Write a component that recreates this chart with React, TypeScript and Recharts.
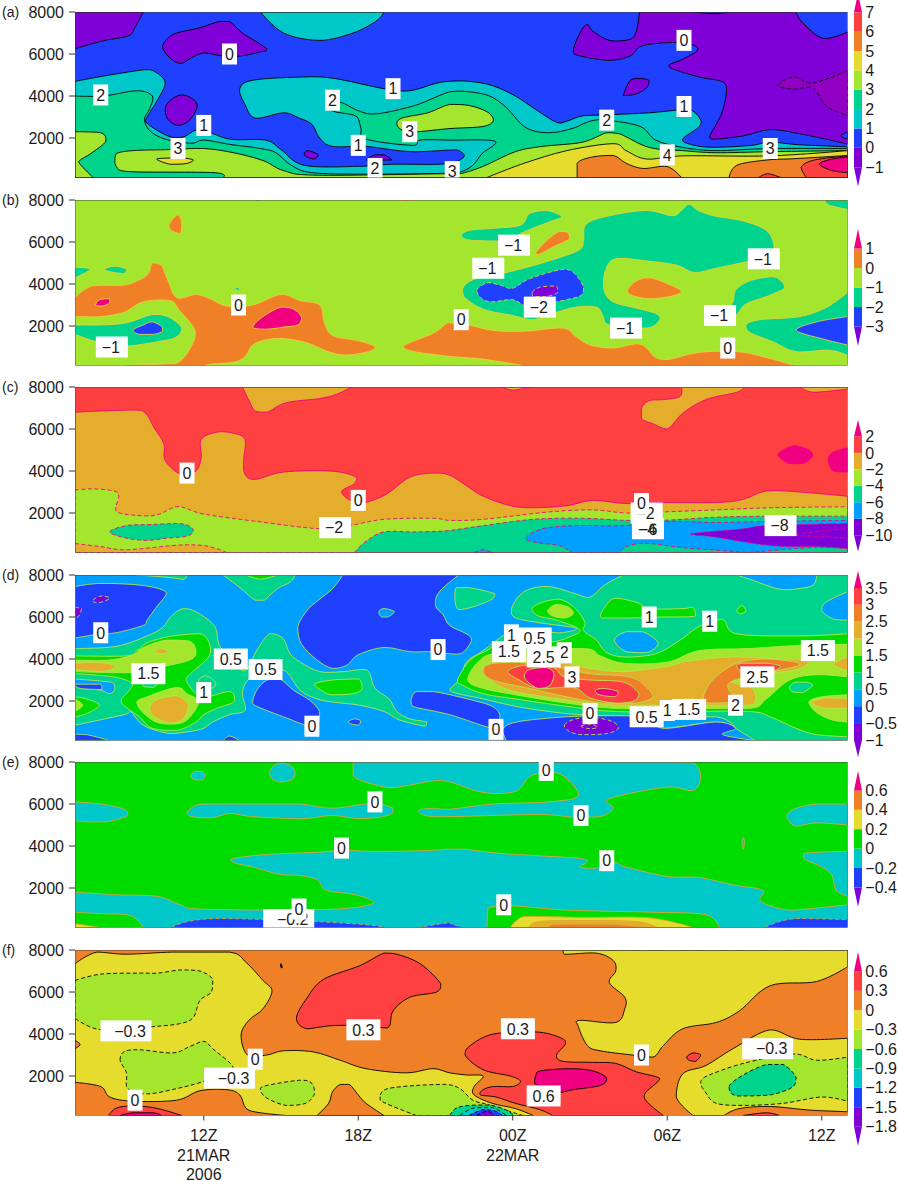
import React from 'react';
import { ScatterChart, Scatter, XAxis, YAxis, BarChart, Bar } from 'recharts';

type P = [number, number];

// ---- palette ----
const PURPLE = '#8000D8', DPURPLE = '#9200C4', BLUE = '#2040FF', SKY = '#00A0FF', CYAN = '#00C8C8', TEAL = '#00D48C';
const GREEN = '#00DC00', YG = '#A4E62E', YELLOW = '#E6DC2E', AMBER = '#E4AE2C', ORANGE = '#F08028', RED = '#FF4040', MAGENTA = '#F00080';

const HOUR_MIN = 7, HOUR_MAX = 37, HEIGHT_MIN = 120, HEIGHT_MAX = 8000;
const hourTicks = [12, 18, 24, 30, 36];
const heightTicks = [2000, 4000, 6000, 8000];
const hourLabels: Record<number, string[]> = { 12: ['12Z', '21MAR', '2006'], 18: ['18Z'], 24: ['00Z', '22MAR'], 30: ['06Z'], 36: ['12Z'] };
const fullArea: P[] = [[7, 120], [37, 120], [37, 8000], [7, 8000]];

// ---- panel (a) ----
const aCyan: P[] = [[7,4700],[8.35,5000],[9.7,5250],[10.05,5200],[10.5,4650],[10.2,3800],[9.8,3000],[9.8,2700],[10.6,2100],[11.2,2050],[11.85,2400],[13,1950],[14.4,1900],[15,1450],[15.9,700],[18,650],[19.3,750],[21.4,770],[22.1,1100],[21.9,1400],[21.55,1430],[20,1350],[18.3,1600],[17,1600],[16.5,2000],[16.2,2650],[15.7,2950],[15.1,3200],[14,2950],[13.6,3600],[13.4,4350],[13.9,4750],[15.7,4900],[17,4850],[19,4350],[20,4250],[21,4600],[21.55,4700],[22.3,4700],[23.2,4500],[24.1,4000],[24.9,3350],[25.7,2750],[26.1,2800],[26.7,3050],[27.6,3100],[29.3,3200],[30.6,3350],[31,3280],[31.3,2850],[31.2,2500],[30.6,1950],[30.9,1700],[31.7,1560],[33.2,1640],[34,1800],[35.1,1680],[37,1580],[37,120],[7,120]];
const aCyanTop: P[] = [[14.2,8000],[15.1,7000],[16.5,6650],[17.8,7000],[18.7,7570],[19,8000]];
const aTeal: P[] = [[7,4000],[8.1,4000],[9.4,4250],[10,4000],[9.9,3400],[9.7,2900],[9.9,2350],[10.5,1950],[11.5,1750],[12,1900],[13,1700],[14.2,1500],[14.8,1300],[15.4,700],[16.2,350],[18.3,280],[21.4,320],[21.95,380],[22.45,700],[22.8,1250],[23.3,1850],[21.55,1900],[20.4,1900],[20.1,1650],[18.3,1950],[18.1,2500],[17.9,3050],[17.1,3250],[16.8,3500],[17.3,3700],[18,3300],[18.7,3150],[20.2,3550],[21.55,4200],[22.3,4200],[23.1,4000],[23.75,3450],[24.5,2500],[25.4,2250],[26.3,2450],[27,2800],[27.65,2850],[28.95,2550],[29.55,1900],[30.6,1550],[31.9,1400],[34,1500],[37,1500],[37,120],[7,120]];
const aYgCorner: P[] = [[7,2300],[8,2250],[8.2,1850],[7.6,1250],[7.2,950],[7.2,750],[7.7,120],[7,120]];
const aYgBand: P[] = [[8.55,930],[8.6,1250],[9.25,1400],[10.7,1450],[12,1500],[13.15,1300],[14.3,930],[15.1,450],[16.4,230],[21.4,300],[21.95,300],[22.85,650],[24.1,1350],[25.15,1600],[26.7,1800],[27.65,2250],[28.15,2200],[29.3,1550],[30.6,1400],[31.9,1300],[34,1350],[37,1400],[37,120],[12.75,120],[12.4,350],[9.1,400],[8.6,650]];
const aYgBlob: P[] = [[19.5,2650],[19.7,2950],[20.7,3200],[21.55,3600],[22.3,3550],[23,3250],[23.25,2850],[22.85,2550],[21.55,2450],[20.3,2300],[19.75,2350]];
const aYellow: P[] = [[23,120],[24.4,780],[26.1,1400],[27.9,1730],[28.4,1400],[29.2,1000],[30.6,1150],[34,1150],[37,1400],[37,120]];
const aYellowSmall: P[] = [[10.17,1000],[11.1,1050],[11.6,950],[11.3,780],[10.7,750]];
const aOrange1: P[] = [[26.5,120],[26.5,800],[27.1,1100],[27.9,1170],[28.4,800],[29.05,550],[30,640],[30.55,120]];
const aOrange2: P[] = [[32.4,120],[32.7,700],[33.85,950],[35,1020],[37,1170],[37,120]];
const aRed1: P[] = [[35.4,120],[35.2,600],[35.7,950],[37,1150],[37,120]];
const aRed2: P[] = [[33.55,120],[33.9,300],[34.4,120]];
const aMagenta: P[] = [[35.9,760],[36.4,1000],[37,1100],[37,350],[36.4,450]];
const aPurpleCorner: P[] = [[7,6250],[8.1,6630],[9.07,6860],[9.33,7260],[9.65,8000],[7,8000]];
const aPurple1: P[] = [[10.4,6300],[10.56,6700],[10.95,7000],[11.85,7250],[12.6,7550],[13,7550],[13.5,7000],[14.45,6250],[14.2,6100],[13.4,5900],[12.75,5900],[12,6050],[11.5,5800],[11.1,5550],[10.7,5800]];
const aPurple2: P[] = [[10.5,3400],[10.7,3800],[11.1,4050],[11.45,3950],[11.75,3550],[11.45,2850],[11,2600],[10.6,2900]];
const aPurple3: P[] = [[15.9,1250],[16.05,1400],[16.45,1200],[16.3,1000],[16,1100]];
const aPurple4: P[] = [[18.3,950],[18.65,1200],[19,1200],[19.3,950]];
const aPurple5: P[] = [[28.3,4020],[28.55,4730],[28.9,4840],[29.3,4730],[29.2,4400],[28.8,4100]];
const aPurpleBig: P[] = [[28.92,8000],[28.8,7100],[28.55,6700],[27.75,6650],[27.1,7100],[26.9,7400],[26.65,7100],[26.35,6150],[26.65,5900],[27.75,5700],[28.55,5900],[29.05,6400],[30.35,6550],[31.05,6400],[31.15,6150],[30.6,5750],[30.1,5500],[30.2,5300],[31.25,4900],[32.1,4700],[32.3,4300],[32.15,3300],[31.9,2650],[31.65,2050],[31.9,1950],[32.95,2100],[34,2400],[35.15,2200],[36.7,1800],[37,1700],[37,7050],[36.05,6750],[35.25,7500],[35,8000]];
const aDarker: P[] = [[34.3,4500],[34.9,4920],[35.65,4620],[37,5200],[37,3070],[36.2,3500],[35.65,4370],[34.9,4330]];
const aBlueTop: P[] = [[31,8000],[31.8,7920],[32.4,8000]];
const aBlueEdge: P[] = [[37,2300],[36.75,2100],[37,1950]];

// ---- panel (b) ----
const bOrangeMain: P[] = [[7,3350],[7.65,3900],[8.9,3950],[9.5,4200],[9.85,4500],[10,5000],[10.35,4900],[10.6,4200],[10.95,3350],[11.7,3500],[12.25,3300],[12.9,2950],[13.9,3000],[15,3500],[15.75,3200],[16.5,3000],[16.7,2100],[17,1550],[17.8,1350],[18.3,1200],[18.65,1000],[18.4,780],[17.55,620],[16.9,750],[16,1200],[15.1,1400],[14.45,1350],[13.9,1100],[13.65,620],[13.25,300],[12.3,180],[12,120],[9,120],[10.5,200],[11.05,300],[11.5,1000],[11.65,1800],[11.05,2750],[10.7,3200],[9.65,3150],[8.9,2650],[8,2450],[7,2450]];
const bTealLeft: P[] = [[7,2050],[8,2050],[9,2150],[10,2550],[10.6,2450],[11.15,1900],[10.9,1450],[10.2,1250],[9.1,1050],[8.35,1100],[7.7,1300],[7,1600]];
const bBlueLeft: P[] = [[9.25,1800],[9.65,2050],[10,2200],[10.4,1950],[10.4,1750],[10.05,1600],[9.5,1600]];
const bMagenta1: P[] = [[7.8,3000],[7.95,3250],[8.35,3300],[8.35,3100],[8.05,2950]];
const bMagenta2: P[] = [[13.9,1950],[14.3,2450],[15,2900],[15.5,2800],[15.8,2400],[15.65,2050],[15.1,1950],[14.45,1850]];
const bOrangeTopLeft: P[] = [[10.65,6850],[11,7300],[11.15,6850],[11.1,6400],[10.9,6450],[10.7,6600]];
const bTealEdge: P[] = [[7,4800],[7.6,4700],[7,4300]];
const bTealSmall: P[] = [[8.15,4700],[8.55,4850],[9,4700],[8.9,4500],[8.5,4550]];
const bTealDot: P[] = [[13.2,3800],[13.35,3850],[13.4,3650]];
const bTealTopDot: P[] = [[13.9,8000],[14.1,7920],[14.25,8000]];
const bOrangeTopDot: P[] = [[19.55,8000],[19.85,7930],[20.15,8000]];
const bOrangeLowRight: P[] = [[19.75,1050],[20.9,1650],[21.4,2100],[21.55,2150],[22.3,2050],[23.2,1800],[24.4,1750],[25.95,1900],[26.45,1500],[27,1100],[27.9,950],[28.8,1150],[29.2,950],[29.55,500],[30.1,420],[31,700],[31.9,800],[32.95,750],[34,450],[34.85,150],[34.9,120],[24.4,120],[22.85,420],[21.55,550],[20.9,650],[20.1,800]];
const bOrangeOval: P[] = [[28.45,3700],[28.8,4150],[29.3,4300],[29.95,4050],[30.55,3650],[30.1,3400],[29.3,3300],[28.65,3450]];
const bOrangeDiag: P[] = [[24.9,5500],[25.3,6050],[25.8,6500],[26.15,6450],[26.2,6150],[25.55,5750],[25,5400]];
const bTealLobe: P[] = [[22,6300],[22.3,6550],[23.2,6650],[24.3,6800],[24.65,7350],[25.3,7500],[25.9,7200],[25.4,6950],[24.3,6400],[24,6050],[23.1,6050],[22.3,6100]];
const bTealMain: P[] = [[26.85,6850],[27.75,7250],[29.2,7500],[30.2,7250],[30.55,7500],[30.85,7800],[31.2,7500],[31.8,7250],[32.95,7000],[33.85,6550],[34.15,5850],[34.1,5350],[33.05,5050],[31.9,4750],[31.05,4550],[30.35,4900],[29.2,5100],[28,5200],[27.6,4650],[27.55,3700],[27.9,3150],[28.8,2850],[29.55,2600],[29.7,2300],[29.2,1900],[27.75,2050],[27.5,2500],[27.25,2900],[26.45,2900],[25.7,2650],[24.8,2300],[24,2500],[22.85,2800],[22.1,3400],[22.05,3800],[22.45,4200],[23.2,4400],[24.1,4650],[25.4,5100],[26.55,5600],[26.75,6050]];
const bBlueMain: P[] = [[22.6,3700],[23,4050],[23.5,3950],[24,3800],[24.65,4250],[25.95,4700],[26.4,4500],[26.75,3850],[26.65,3450],[25.7,3150],[24.65,2900],[24,3250],[23.2,3150],[22.8,3300]];
const bPurple: P[] = [[24.75,3600],[25.05,3850],[25.7,3900],[25.75,3600],[25.3,3400],[24.8,3400]];
const bTealArm: P[] = [[32.55,3150],[32.65,3700],[33.2,4150],[34.1,4350],[34.5,4050],[34.55,3800],[33.85,3400],[33.05,3050],[32.65,2500],[32.15,2500]];
const bTealLowRight: P[] = [[33.05,2050],[33.6,2300],[35.15,2450],[36.2,2900],[37,3600],[37,600],[36.3,850],[35,780],[34.1,1250],[33.2,1700]];
const bBlueRight: P[] = [[35,1800],[35.8,2200],[37,2450],[37,1100],[36.15,1350]];
const bTealTopRight: P[] = [[36.1,8000],[36.3,7750],[37,7550],[37,8000]];

// ---- panel (c) ----
const cAmberMain: P[] = [[7,6800],[9.15,6900],[9.7,6800],[10.1,6000],[10.45,5300],[10.5,4500],[11.1,3850],[11.7,4000],[11.9,4650],[11.9,5500],[12.5,5850],[13.15,5800],[13.6,5500],[13.55,4500],[13.6,3850],[14,3600],[15.1,3950],[16.9,4000],[17.85,3750],[17.85,3400],[17.35,3000],[17.85,2500],[18.3,2500],[19.1,2900],[20,3700],[20.9,3900],[21.55,3800],[22.2,3300],[22.85,2800],[23.9,2350],[24.8,2250],[26.1,2350],[27.1,2600],[28.4,2450],[29.6,2500],[31.9,2500],[32.95,2650],[33.85,3050],[35.15,3000],[37,2800],[37,120],[7,120]];
const cAmberTop1: P[] = [[13.5,8000],[13.8,7250],[14,6850],[14.45,6800],[15.2,7250],[16.5,7450],[17.15,7650],[17.75,8000]];
const cAmberTop2: P[] = [[23.6,8000],[24,7850],[24.65,8000]];
const cAmberTop3: P[] = [[30.55,8000],[30.5,7550],[29.85,7400],[29.3,7350],[29,7000],[29,6500],[29.45,6250],[30,6000],[30.6,6750],[31.5,7400],[32.7,7750],[33,8000]];
const cAmberTop4: P[] = [[35.15,8000],[35.7,7750],[37,7900],[37,8000]];
const cMagenta1: P[] = [[34.3,4750],[34.5,5000],[34.95,5200],[35.5,5000],[35.65,4700],[35.25,4350],[34.75,4350]];
const cMagenta2: P[] = [[36.25,4550],[36.45,4900],[37,5100],[37,3950],[36.45,4000]];
const cYg: P[] = [[7,3100],[7.7,3150],[8.5,3050],[8.7,2800],[8.6,2100],[9.25,1900],[10.15,1900],[11,2300],[12,1950],[14.05,1600],[16.5,1250],[17.65,1400],[19,1700],[20.9,1750],[21.55,1650],[22.85,1700],[25.4,2050],[27.1,2150],[28.4,2000],[29.8,2050],[31.9,2150],[34,2250],[37,2300],[37,120],[7,120]];
const cAmberLow: P[] = [[7,550],[8,400],[9,250],[11,470],[12.1,430],[12.9,120],[7,120]];
const cTealOval: P[] = [[8.35,1100],[9,1400],[9.9,1450],[10.95,1500],[11.4,1400],[11.6,1150],[11.35,900],[10.55,800],[9.8,700],[9,800]];
const cTealLow: P[] = [[17.85,120],[18.3,650],[19,1100],[20.15,1100],[21.4,1150],[22.85,1400],[24.8,1700],[26.7,1750],[28.4,1650],[29.8,1650],[31.9,1800],[34,1850],[37,1850],[37,120]];
const cSkyMain: P[] = [[24.5,800],[25.15,1250],[26.45,1400],[28.3,1400],[30,1600],[31.9,1550],[34,1600],[37,1650],[37,300],[35.8,370],[33.2,120],[30.6,350],[29.3,550],[28.5,450],[28.15,120],[26.3,120],[25.8,450],[24.9,600]];
const cSkySmall: P[] = [[22.5,120],[22.85,250],[23.2,120]];
const cPurple: P[] = [[30.9,1000],[32.95,1250],[33.85,1400],[37,1500],[37,300],[35.8,400],[34,450],[31.9,850]];
const cPurpleInner: P[] = [[35,950],[36,1150],[37,1250],[37,800],[36,880]];

// ---- panel (d) ----
const dBlue1: P[] = [[7,7450],[8,7600],[9.65,7500],[10.55,7150],[10.15,6450],[9.8,5850],[9.65,5600],[8.6,5250],[8,5200],[7,5000]];
const dPurple1: P[] = [[7.7,6800],[8,7000],[8.35,6900],[8,6700],[7.75,6700]];
const dPurple2: P[] = [[7,6450],[7.25,6400],[7.15,6050],[7,5950]];
const dBlue2: P[] = [[17.4,8000],[17,7350],[16.45,6800],[16,6300],[15.65,5500],[15.8,4700],[16.4,3950],[17,3550],[17.55,3700],[18,4200],[19,4550],[20,4350],[20.9,4350],[21.55,4250],[22.05,4300],[22.4,4900],[22.2,5200],[21.55,5600],[21.3,6100],[21,6550],[21.15,7200],[21.9,8000]];
const dSkyIsle: P[] = [[18.8,6250],[19,6400],[19.4,6250],[19.15,6000],[18.9,6000]];
const dBlue3: P[] = [[13.9,1950],[14.05,2500],[14.45,3000],[14.95,3050],[15.5,2500],[16.1,2050],[16.5,1500],[16.45,1000],[16,850],[15.2,1200],[14.05,1750]];
const dBlueSmall: P[] = [[17.6,1000],[17.85,1150],[18.1,1050],[18,850],[17.75,900]];
const dBlue4: P[] = [[20.05,2050],[20.25,2450],[20.9,2450],[21.55,2300],[22.4,2050],[23.2,1750],[23.5,1300],[23.3,700],[21.55,1350],[20.1,1750]];
const dBlue5: P[] = [[23.75,120],[23.6,620],[24.15,1000],[26.1,1250],[28,1300],[29.3,1200],[29.85,700],[31.9,1000],[32.65,700],[32.15,400],[33.4,120]];
const dBlue6: P[] = [[7,420],[7.45,400],[8.2,170],[8.3,120],[7,120]];
const dBlue7: P[] = [[12.75,120],[13,330],[13.4,120]];
const dPurpleOval: P[] = [[26,850],[26.45,1150],[27.25,1200],[27.9,1000],[28.1,700],[27.65,450],[26.7,400],[26.2,550]];
const dPurpleInner: P[] = [[26.65,800],[27,900],[27.3,750],[27,680]];
const dTealLeft: P[] = [[7,4500],[8.6,4600],[9.8,5100],[10.4,5500],[10.75,6050],[11.2,6400],[11.7,6250],[12.4,5600],[12.55,4900],[12.65,4550],[13.1,3900],[13.6,3450],[14.05,4400],[14.45,5100],[14.7,5200],[15.1,4950],[15.35,4250],[15.75,3850],[16.5,3400],[17.4,3400],[18.2,3500],[18.45,3300],[18.65,2600],[19.2,2100],[19.5,1500],[20,1150],[20.65,1000],[20.6,800],[19.6,1100],[19,1500],[18.05,1800],[17,1950],[16.4,2100],[15.75,2500],[15.2,3400],[14.6,3550],[13.9,3200],[13.6,2800],[13.5,2300],[13.6,1550],[13,1350],[12.35,1000],[12,700],[11.45,550],[10.7,450],[9.9,700],[9.5,1000],[9.15,1500],[8.9,1350],[7,850]];
const dSkyLeft: P[] = [[7,3050],[8,2950],[8.5,2850],[8.55,2550],[8.35,2350],[8,2500],[7,2700]];
const dBlueLens: P[] = [[7,2800],[8,2800],[8.05,2550],[7.2,2600]];
const dGreenLeft: P[] = [[7,4150],[9,4150],[9.4,4400],[9.85,4800],[10.8,5100],[11.85,5200],[12.2,4800],[12.25,4250],[12,3850],[11.4,3200],[11.35,2900],[11.7,2350],[12.1,2200],[13,2450],[13.2,2100],[13.1,1900],[12.5,1650],[12,1350],[11.7,1000],[10.95,600],[10,700],[9.5,1250],[8.8,1950],[9.1,2500],[9.2,2850],[8.5,3150],[7,3300]];
const dTealIsle: P[] = [[11.8,3000],[12.1,3200],[12.45,2900],[12.4,2650],[11.85,2500]];
const dTealLens: P[] = [[9.6,2900],[9.9,3050],[10.2,2900],[10.05,2650],[9.65,2700]];
const dGreenEdge: P[] = [[7,2200],[7.45,2100],[7.95,1800],[7.45,1400],[7,1250]];
const dYgEdge: P[] = [[7,2100],[7.3,1800],[7,1500]];
const dYgLeft: P[] = [[7,3950],[8.35,3950],[9.25,4200],[9.65,4550],[10.55,4900],[11.45,4850],[11.7,4350],[11.45,3950],[10.3,3600],[9.5,3350],[8.35,3350],[7,3400]];
const dAmberLeft: P[] = [[7,3800],[7.7,3850],[8.4,3750],[8.55,3600],[8,3400],[7,3500]];
const dAmberSmall: P[] = [[10.1,4350],[10.35,4500],[10.6,4350],[10.35,4250]];
const dYgLow: P[] = [[9.4,1950],[9.8,2200],[10.95,2650],[11.35,2350],[11.8,1950],[11.35,1100],[10.8,900],[10.15,1000],[9.6,1500]];
const dAmberLow: P[] = [[9.9,1650],[10.15,2050],[10.95,2250],[11.4,1800],[11.2,1150],[10.7,950],[10.1,1250]];
const dGreenMid: P[] = [[16.3,2800],[17,3000],[18,3050],[18.15,2600],[17.8,2350],[17,2300],[16.65,2450]];
const dTealTop1: P[] = [[12.75,8000],[13.4,7400],[14,6800],[14.35,6800],[14.85,7350],[15.35,7650],[15.55,8000]];
const dGreenTop: P[] = [[13.65,8000],[14.2,7800],[14.85,8000]];
const dTealTop2: P[] = [[9.4,8000],[10.5,7900],[11.2,7800],[11.35,8000]];
const dTealBig: P[] = [[28.3,8000],[27.6,7550],[27,6950],[26.45,7100],[25.4,7450],[24.5,7250],[24,6550],[24.05,6000],[24.9,5750],[25.8,5600],[26.5,5450],[25.8,5250],[24.45,5400],[23.75,5200],[22.85,4400],[22.2,3850],[21.95,3050],[21.55,2500],[22.85,2100],[24.1,1750],[25.4,1500],[26.7,1350],[29.3,1250],[31.9,1200],[32.65,700],[33.4,120],[37,120],[37,8000]];
const dSkyBlob: P[] = [[29.3,1250],[31.9,1250],[32.65,700],[31.9,1000],[29.85,700],[29.3,1200]];
const dSkyTopRight: P[] = [[32.7,8000],[33.2,7800],[34.5,7300],[35.65,7500],[35.8,8000]];
const dSkyRight: P[] = [[37,7200],[36.15,6700],[36,6300],[36.45,5900],[37,5850]];
const dTealOval: P[] = [[21.8,7400],[22.3,7400],[23.3,7100],[23.2,6850],[22.5,6500],[21.9,6350],[21.75,6900]];
const dSkyCentre: P[] = [[27.95,4900],[28.4,5300],[29.05,5300],[29.65,4750],[29.2,4300],[28.4,4350]];
const dGreenRight: P[] = [[21.85,3000],[22.35,3950],[23,4400],[23.6,4750],[25.4,4800],[26.2,5050],[26.6,5400],[25.7,5850],[25,6050],[24.75,6400],[25.15,6700],[25.8,6850],[26.4,6450],[26.8,5750],[26.75,5350],[27.25,4900],[27.6,4350],[28.3,4100],[29.55,4250],[30.5,4900],[31.1,5450],[31.65,5750],[32.2,5850],[32.7,5200],[35.15,5100],[37,5200],[37,300],[35.8,400],[35,700],[34,1250],[33.2,1500],[30.6,1500],[28,1500],[26.1,1750],[24.1,2100],[22.85,2350],[22.05,2750]];
const dGreenIsle: P[] = [[27.4,6050],[27.65,6600],[28,6900],[28.8,6700],[29.3,6400],[30.6,6400],[31,6450],[31.1,6050],[29.8,6000],[28.55,5950],[27.65,5950]];
const dGreenSmall: P[] = [[32.7,6300],[32.9,6550],[33.05,6300],[32.85,6150]];
const dYgOval: P[] = [[25.35,6300],[25.7,6600],[26.2,6450],[26.35,6150],[26,5950],[25.55,6050]];
const dYgRidge: P[] = [[22.25,3000],[22.65,3850],[23.5,4300],[26.7,4500],[27.4,4150],[28.3,3800],[30,3850],[31.25,4400],[33.2,4500],[35.15,4650],[37,4700],[37,3150],[35.8,3250],[34.75,3000],[33.85,2100],[33.2,1650],[30.6,1650],[28,1650],[26.1,1900],[24.1,2300],[22.85,2600]];
const dYgLowRight: P[] = [[35.5,1950],[36,2200],[37,2300],[37,1000],[36.4,1100],[35.8,1450]];
const dAmberLowRight: P[] = [[35.6,1950],[36.2,2150],[37,2100],[37,1650],[36.2,1650],[35.75,1800]];
const dTealRightIsle: P[] = [[34.75,2700],[35,2900],[35.4,2900],[35.65,2750],[35.25,2400],[34.85,2450]];
const dAmberEdge: P[] = [[36.45,3750],[37,4100],[37,3450]];
const dAmberRidge: P[] = [[22.8,3400],[23.1,3800],[24.1,3950],[26,3800],[27,3550],[28.3,3400],[30,3650],[30.85,3900],[32.55,4100],[34.5,4000],[35.6,3950],[35.15,3550],[34.5,3400],[33.3,3200],[32.45,2950],[33.3,2600],[33.4,1950],[32.95,1800],[30.6,1800],[28,1800],[26.1,2050],[24.1,2450],[23.2,2900]];
const dOrange1: P[] = [[22.85,3450],[23.1,3750],[24.1,3850],[25.8,3600],[27,3300],[28.55,3150],[29.2,2650],[29.45,2200],[28.8,1900],[27.5,1900],[26.1,2200],[24.65,2600],[23.2,3000]];
const dOrange2: P[] = [[31.4,2200],[31.8,3050],[32.7,3800],[33.85,4000],[35,3850],[35.15,3700],[34.3,3450],[33.3,3200],[32.45,2900],[32.4,2500],[32.8,2000],[31.6,1900]];
const dRed1: P[] = [[23.8,3400],[24.45,3700],[25.55,3600],[26,3150],[27,3000],[28.3,2900],[28.9,2350],[28.7,2000],[28,1900],[27,2150],[26.35,2650],[25,2600],[24.25,3000]];
const dRed2: P[] = [[32.7,3650],[32.95,3800],[33.85,3800],[34.4,3650],[34,3400],[33,3400]];
const dMagenta1: P[] = [[24.45,3200],[24.65,3500],[25.3,3600],[25.6,3300],[25.45,2750],[25,2600],[24.6,2900]];
const dMagenta2: P[] = [[27.2,2500],[27.5,2600],[28.1,2450],[27.95,2200],[27.35,2300]];

// ---- panel (e) ----
const eCyanTop: P[] = [[17.8,8000],[17.8,7370],[18.2,7080],[19.2,6780],[20,6900],[20.9,7100],[21.55,7050],[22.85,6550],[24.1,6600],[24.65,7300],[25.3,7500],[25.95,7350],[26.55,6400],[25.4,6100],[23.25,6000],[21.55,5750],[20.9,5800],[20.35,5700],[20.6,5450],[21.55,5400],[25,5500],[26.4,5370],[27.4,5400],[27.9,5800],[27.75,6250],[29.95,6800],[31,6650],[31.3,7300],[31,7950],[29.95,8000]];
const eCyanLeft: P[] = [[7,6100],[8,6000],[8.8,5800],[9.05,5600],[9,5400],[8.2,5150],[7.45,5150],[7,5200]];
const eCyanBand: P[] = [[11.35,5600],[11.65,5900],[12.1,6000],[14.45,6000],[15.75,6000],[17,5800],[18.25,6000],[18.8,6000],[19.35,5800],[19.35,5600],[18.95,5400],[18.05,5300],[17,5450],[15.75,5300],[13.9,5400],[13,5550],[12.35,5350],[11.55,5400]];
const eOval1: P[] = [[11.5,7350],[11.65,7550],[11.95,7550],[12.05,7350],[11.95,7150],[11.65,7150]];
const eOval2: P[] = [[14.55,7450],[14.7,7800],[15,7950],[15.4,7800],[15.55,7450],[15.4,7150],[15,7050],[14.7,7150]];
const eCyanLarge: P[] = [[13.15,3400],[14.45,3600],[16.4,3700],[17.35,3800],[18.3,3750],[19.6,3750],[20.9,3800],[21.55,3850],[22.1,3850],[23.5,3650],[24.8,3550],[26.7,3400],[26.85,3200],[26.6,3000],[27.25,2950],[28,3200],[28.4,3000],[30,2550],[31.25,2500],[32.55,2150],[33.7,1900],[33.6,1450],[34,1150],[34.75,950],[35.8,1050],[37,1200],[37,120],[9.65,120],[9.4,500],[9,730],[8,780],[7,850],[7,1800],[8.6,1680],[10.2,1600],[11.1,1200],[11.85,1000],[15.75,950],[17.7,1050],[18.55,1250],[18.45,1450],[17.8,1700],[16.75,1900],[16.4,2400],[15.7,2600],[14.95,2650],[13.9,3000],[13.2,3200]];
const eGreenLow: P[] = [[23,120],[23.05,1050],[24,1150],[26.1,950],[29.3,850],[31.5,730],[32,120]];
const eYellowLow: P[] = [[23.9,120],[24.2,500],[24.65,650],[26.7,600],[29.3,580],[31,120]];
const eAmberLow: P[] = [[24.65,120],[25,400],[26.7,450],[28.8,400],[29.6,120]];
const eOrangeLow: P[] = [[25.4,120],[25.6,280],[28,260],[28.9,120]];
const eYellowCorner: P[] = [[7,300],[8,120],[7,120]];
const eBlueRight: P[] = [[33.8,120],[34.35,400],[35.15,550],[37,500],[37,120]];
const eBlueLeft: P[] = [[10.75,120],[11.35,400],[12.5,550],[14.45,500],[16.4,400],[18.3,250],[19.1,120]];
const eBlueMid: P[] = [[20.3,120],[21.5,350],[21.6,300],[22.05,120]];
const eWedge1: P[] = [[35.3,3650],[37,3750],[37,1600],[36.55,1900],[36.4,2600],[36,3000],[35.3,3400]];
const eWedge2: P[] = [[34.65,5500],[35,5800],[35.8,6000],[37,6000],[37,5000],[35.8,5100],[35,4950],[34.7,5250]];
const eLens: P[] = [[32.95,4400],[33,4200],[32.95,3850],[32.9,4200]];

// ---- panel (f) ----
const fYellowMain: P[] = [[7,7350],[7.85,7900],[9,7800],[10.8,7900],[13,7900],[13.65,7400],[14.3,6550],[14.65,6050],[14.3,5200],[13.75,4650],[13.45,3950],[13.7,3000],[14.45,3000],[15.1,3200],[16.25,3150],[17.3,2750],[18.3,2350],[19.85,2150],[20.9,2350],[21.55,2150],[22.2,2050],[22.85,2000],[22.5,1500],[22.5,1100],[23.2,700],[24.1,450],[24.8,120],[15.2,120],[14.2,250],[13.65,450],[13.4,1100],[12.9,1350],[11.85,1300],[10.95,850],[9.25,800],[8.35,1000],[8,1500],[7,1700]];
const fOrangeHump: P[] = [[16.4,120],[16.85,700],[17,1250],[17.3,1600],[17.65,1600],[18,1100],[18.3,700],[19,120]];
const fOrangeEdge: P[] = [[7,3700],[7.2,3500],[7,3300]];
const fYellowTop: P[] = [[25.95,8000],[26,7800],[27.25,7850],[27.9,7500],[28,7000],[27.75,6450],[28.35,5750],[28.35,5200],[28,4550],[26.6,4650],[26.55,4350],[26.9,3450],[27.4,3200],[28.65,3000],[29.45,2900],[29.85,3450],[30.6,4250],[31.9,4550],[32.8,5100],[34,6300],[35.8,6500],[37,7200],[37,8000]];
const fYellowRight: P[] = [[31,120],[30.35,1000],[30.6,2100],[31.5,2500],[32.55,3300],[34,4200],[35.15,3750],[37,3800],[37,300],[35.5,380],[34,550],[32.8,450],[32.2,120]];
const fRedLowRight: P[] = [[32.95,120],[33.85,250],[34.35,120]];
const fYgRight: P[] = [[31.3,1650],[31.45,1950],[32.95,2600],[34.9,3050],[35.8,2750],[37,2900],[37,800],[36,1000],[34.5,700],[32.95,600],[31.9,700],[31.5,1200]];
const fTealRight: P[] = [[32.4,1500],[32.95,2050],[33.85,2550],[34.5,2550],[35,1950],[34.9,1500],[34,1100],[32.7,1050]];
const fYgLeft1: P[] = [[7,6550],[8,6850],[9.5,6900],[10.2,6900],[11.1,7050],[11.85,7000],[12.35,6600],[12.3,6000],[11.85,5600],[11.6,4800],[11.1,4500],[10,4350],[8,4200],[7,4750]];
const fYgLeft2: P[] = [[8.75,2750],[8.9,3150],[9.5,3250],[10.8,3100],[11.45,3400],[12,3650],[12.35,3300],[13.15,2350],[12,1750],[10.95,1400],[9.8,1150],[9.05,1400],[9,2150]];
const fYgMid: P[] = [[14.2,1350],[14.45,1550],[15.75,1800],[16.2,1650],[16.3,1150],[15.95,700],[15.2,600],[14.45,950]];
const fYgLow: P[] = [[18.85,1100],[19.15,1400],[20.25,1550],[21.4,1600],[21.95,1400],[22.45,850],[23.1,620],[24.1,230],[24.4,120],[20.25,120],[19.35,550],[18.85,850]];
const fRingTeal: P[] = [[21.55,120],[21.8,470],[22.3,600],[23.1,620],[23.75,380],[24.05,120]];
const fRingCyan: P[] = [[21.95,120],[22.45,470],[23.2,500],[23.75,120]];
const fRingBlue: P[] = [[22.3,120],[22.85,400],[23.35,320],[23.6,120]];
const fRingPurple: P[] = [[22.6,120],[23,320],[23.3,120]];
const fRedBottom: P[] = [[8.3,120],[8.6,470],[9.25,580],[10.15,470],[11.15,120]];
const fMagentaBottom: P[] = [[8.75,120],[9.25,250],[10.05,250],[10.35,120]];
const fRedTop: P[] = [[15.6,4750],[16,5700],[16.65,6600],[18.05,7250],[19,7850],[19.5,7800],[20.4,7350],[21.2,6400],[21.05,6000],[20,5750],[19.35,5100],[19.15,4300],[18.3,4400],[17,4400],[16,4250]];
const fDot: P[] = [[15,7350],[15.05,7150],[14.98,7200]];
const fRedCentre: P[] = [[22.15,3000],[22.35,3450],[23.25,4000],[24.9,4100],[25.8,3850],[26.05,3550],[25.7,3000],[25.95,2700],[27.1,2650],[28,2600],[28.8,2200],[29.6,1950],[29.65,1750],[29.1,1000],[29.85,120],[25.55,120],[25.05,400],[24.1,700],[23.35,1000],[22.75,1100],[22.85,1350],[23.25,1500],[24,1500],[24.3,1750],[23.9,2000],[22.85,2300]];
const fMagentaCentre: P[] = [[24.9,2050],[25.1,2250],[26.2,2350],[27.1,2250],[27.65,1900],[27.4,1550],[26.35,1350],[25.7,1200],[24.85,1650]];
const fRedSmall: P[] = [[30.75,2900],[31,3100],[31.3,3000],[31.1,2700],[30.85,2750]];

// ---- contour labels: hour, height, text (a fourth entry draws the text without its own box) ----
const aLabels = [[13,6000,'0'],[8,4050,'2'],[12,2600,'1'],[11,1500,'3'],[17,3800,'2'],[19.35,4350,'1'],[20,2300,'3'],[18,1650,'1'],[18.65,550,'2'],[21.65,400,'3'],[30.65,6650,'0'],[30.65,3500,'1'],[27.65,2850,'2'],[30,1200,'4'],[34,1500,'3']];
const bLabels = [[8.43,1000,'−1'],[13.35,3000,'0'],[22,2300,'0'],[24.05,5850,'−1'],[23.05,4750,'−1'],[25.05,2900,'−2'],[28.4,1900,'−1'],[32.35,950,'0'],[32.05,2500,'−1'],[33.75,5200,'−1']];
const cLabels = [[11.35,3900,'0'],[18,2600,'0'],[17.1,1300,'−2'],[29.25,1250,'−4'],[29.3,1250,'−6',true],[29.2,2000,'−2'],[29,2450,'0'],[34.4,1400,'−8']];
const dLabels = [[8,5250,'0'],[9.85,3300,'1.5'],[13.05,4000,'0.5'],[14.4,3500,'0.5'],[12,2400,'1'],[16.2,800,'0'],[21.1,4450,'0'],[23.95,5150,'1'],[24.85,5000,'0.5'],[23.85,4350,'1.5'],[26.0,4300,'2'],[25.2,4100,'2.5'],[26.3,3150,'3'],[27,1400,'0'],[23.35,650,'0'],[29.2,1250,'0.5'],[30,1550,'1'],[30.85,1600,'1.5'],[32.65,1800,'2'],[33.5,3150,'2.5'],[29.3,6000,'1'],[31.65,5800,'1'],[35.85,4400,'1.5']];
const eLabels = [[18.65,6100,'0'],[17.35,3900,'0'],[15.3,500,'−0.2'],[15.7,1000,'0'],[25.3,7600,'0'],[26.65,5450,'0'],[27.65,3300,'0'],[23.65,1200,'0']];
const fLabels = [[8.98,4150,'−0.3'],[9.33,850,'0'],[13,1900,'−0.3'],[14,2800,'0'],[18.2,4200,'0.3'],[24.2,4250,'0.3'],[29,3000,'0'],[25.2,1050,'0.6'],[33.9,3300,'−0.3']];

// ---- colour bars ----
const aBarLabels = ['7','6','5','4','3','2','1','0','−1'];
const bBarLabels = ['1','0','−1','−2','−3'];
const cBarLabels = ['2','0','−2','−4','−6','−8','−10'];
const dBarLabels = ['3.5','3','2.5','2','1.5','1','0.5','0','−0.5','−1'];
const eBarLabels = ['0.6','0.4','0.2','0','−0.2','−0.4'];
const fBarLabels = ['0.6','0.3','0','−0.3','−0.6','−0.9','−1.2','−1.5','−1.8'];
const aBarColors = [MAGENTA, RED, ORANGE, YELLOW, YG, TEAL, CYAN, BLUE, PURPLE, PURPLE];
const bBarColors = [MAGENTA, ORANGE, YG, TEAL, BLUE, PURPLE];
const cBarColors = [MAGENTA, RED, AMBER, YG, TEAL, SKY, PURPLE, PURPLE];
const dBarColors = [MAGENTA, RED, ORANGE, AMBER, YG, GREEN, TEAL, SKY, BLUE, PURPLE, PURPLE];
const eBarColors = [MAGENTA, ORANGE, YELLOW, GREEN, CYAN, BLUE, PURPLE];
const fBarColors = [MAGENTA, RED, ORANGE, YELLOW, YG, TEAL, CYAN, BLUE, PURPLE, PURPLE];

type Layer = [P[], string, boolean?];
const FONT = '"Liberation Sans", Arial, sans-serif';
const TEXT = '#1c1c1c';

const panels: { letter: string; top: number; bg: string; stroke: string; labels: any[]; layers: Layer[] }[] = [
  { letter: '(a)', top: 11.5, bg: BLUE, stroke: '#000', labels: aLabels, layers: [
    [aCyan, CYAN],[aCyanTop, CYAN],[aTeal, TEAL],[aYgCorner, YG],[aYgBand, YG],[aYgBlob, YG],[aYellow, YELLOW],[aYellowSmall, YELLOW],[aOrange1, ORANGE],[aOrange2, ORANGE],[aRed1, RED],[aRed2, RED],[aMagenta, MAGENTA],
    [aPurpleCorner, PURPLE],[aPurple1, PURPLE],[aPurple2, PURPLE],[aPurple3, PURPLE],[aPurple4, PURPLE],[aPurple5, PURPLE],[aPurpleBig, PURPLE],[aDarker, DPURPLE, true],[aBlueTop, BLUE],[aBlueEdge, BLUE],
  ] },
  { letter: '(b)', top: 199.5, bg: YG, stroke: '#E6D23C', labels: bLabels, layers: [
    [bOrangeMain, ORANGE],[bTealLeft, TEAL],[bBlueLeft, BLUE],[bMagenta1, MAGENTA],[bMagenta2, MAGENTA],[bOrangeTopLeft, ORANGE],[bTealEdge, TEAL],[bTealSmall, TEAL],[bTealDot, TEAL],[bTealTopDot, TEAL],[bOrangeTopDot, ORANGE],[bOrangeLowRight, ORANGE],[bOrangeDiag, ORANGE],[bTealLobe, TEAL],[bTealMain, TEAL],[bOrangeOval, ORANGE],
    [bBlueMain, BLUE, true],[bPurple, PURPLE, true],[bTealArm, TEAL],[bTealLowRight, TEAL],[bBlueRight, BLUE],[bTealTopRight, TEAL],
  ] },
  { letter: '(c)', top: 387, bg: RED, stroke: '#F00080', labels: cLabels, layers: [
    [cAmberMain, AMBER],[cAmberTop1, AMBER],[cAmberTop2, AMBER],[cAmberTop3, AMBER],[cAmberTop4, AMBER],[cMagenta1, MAGENTA],[cMagenta2, MAGENTA],[cYg, YG, true],[cAmberLow, AMBER, true],[cTealOval, TEAL, true],[cTealLow, TEAL, true],[cSkyMain, SKY, true],[cSkySmall, SKY, true],[cPurple, PURPLE, true],[cPurpleInner, PURPLE, true],
  ] },
  { letter: '(d)', top: 574.5, bg: SKY, stroke: '#B4E650', labels: dLabels, layers: [
    [dBlue1, BLUE],[dPurple1, PURPLE, true],[dPurple2, PURPLE, true],[dBlue2, BLUE],[dSkyIsle, SKY],[dBlue3, BLUE],[dBlueSmall, BLUE],[dTealLeft, TEAL],[dSkyLeft, SKY],[dBlueLens, BLUE],[dGreenLeft, GREEN],[dTealIsle, TEAL],[dTealLens, TEAL],[dGreenEdge, GREEN],[dYgEdge, YG],[dYgLeft, YG],[dAmberLeft, AMBER],[dAmberSmall, AMBER],[dYgLow, YG],[dAmberLow, AMBER],[dGreenMid, GREEN],[dTealTop1, TEAL],[dGreenTop, GREEN],[dTealTop2, TEAL],
    [dTealBig, TEAL],[dSkyBlob, SKY],[dSkyTopRight, SKY],[dSkyRight, SKY],[dTealOval, TEAL],[dBlue4, BLUE],[dBlue5, BLUE],[dBlue6, BLUE],[dBlue7, BLUE],[dPurpleOval, PURPLE, true],[dPurpleInner, PURPLE, true],
    [dGreenRight, GREEN],[dSkyCentre, SKY],[dGreenIsle, GREEN],[dGreenSmall, GREEN],[dYgOval, YG],[dYgRidge, YG],[dYgLowRight, YG],[dAmberLowRight, AMBER],[dTealRightIsle, TEAL],[dAmberEdge, AMBER],[dAmberRidge, AMBER],[dOrange1, ORANGE],[dOrange2, ORANGE],[dRed1, RED],[dRed2, RED],[dMagenta1, MAGENTA],[dMagenta2, MAGENTA],
  ] },
  { letter: '(e)', top: 762, bg: GREEN, stroke: '#D8A838', labels: eLabels, layers: [
    [eCyanTop, CYAN],[eCyanLeft, CYAN],[eCyanBand, CYAN],[eOval1, CYAN],[eOval2, CYAN],[eCyanLarge, CYAN],[eGreenLow, GREEN],[eYellowLow, YELLOW],[eAmberLow, AMBER],[eOrangeLow, ORANGE],[eYellowCorner, YELLOW],[eBlueRight, BLUE, true],[eBlueLeft, BLUE, true],[eBlueMid, BLUE, true],[eWedge1, CYAN],[eWedge2, CYAN],[eLens, CYAN],
  ] },
  { letter: '(f)', top: 949.5, bg: ORANGE, stroke: '#000', labels: fLabels, layers: [
    [fYellowMain, YELLOW],[fOrangeHump, ORANGE],[fOrangeEdge, ORANGE],[fYellowTop, YELLOW],[fYellowRight, YELLOW],[fRedLowRight, RED],[fYgRight, YG, true],[fTealRight, TEAL, true],[fYgLeft1, YG, true],[fYgLeft2, YG, true],[fYgMid, YG, true],[fYgLow, YG, true],[fRingTeal, TEAL, true],[fRingCyan, CYAN, true],[fRingBlue, BLUE, true],[fRingPurple, PURPLE, true],[fRedBottom, RED],[fMagentaBottom, MAGENTA],[fRedTop, RED],[fDot, '#000'],[fRedCentre, RED],[fMagentaCentre, MAGENTA],[fRedSmall, RED],
  ] },
];

const colourBars = [
  { top: -7.4, box: 19.35, labels: aBarLabels, colors: aBarColors },
  { top: 229, box: 19.5, labels: bBarLabels, colors: bBarColors },
  { top: 420, box: 16.45, labels: cBarLabels, colors: cBarColors },
  { top: 571, box: 16.9, labels: dBarLabels, colors: dBarColors },
  { top: 771, box: 19.4, labels: eBarLabels, colors: eBarColors },
  { top: 952, box: 19.4, labels: fBarLabels, colors: fBarColors },
];

const isEdge = (p: P) => p[0] === HOUR_MIN || p[0] === HOUR_MAX || p[1] === HEIGHT_MIN || p[1] === HEIGHT_MAX;

function smoothClosed(points: { x: number; y: number }[], raw: P[]) {
  const n = points.length;
  if (!n) return '';
  const xs = points.map((p) => p.x), ys = points.map((p) => p.y);
  const minX = Math.min(...xs), maxX = Math.max(...xs), minY = Math.min(...ys), maxY = Math.max(...ys);
  const cx = (v: number) => Math.min(maxX, Math.max(minX, v));
  const cy = (v: number) => Math.min(maxY, Math.max(minY, v));
  let d = `M${points[0].x},${points[0].y}`;
  for (let i = 0; i < n; i++) {
    const p0 = points[(i - 1 + n) % n], p1 = points[i], p2 = points[(i + 1) % n], p3 = points[(i + 2) % n];
    const e1 = isEdge(raw[i]), e2 = isEdge(raw[(i + 1) % n]);
    const c1x = e1 ? p1.x : cx(p1.x + (p2.x - p0.x) / 6), c1y = e1 ? p1.y : cy(p1.y + (p2.y - p0.y) / 6);
    const c2x = e2 ? p2.x : cx(p2.x - (p3.x - p1.x) / 6), c2y = e2 ? p2.y : cy(p2.y - (p3.y - p1.y) / 6);
    d += `C${c1x},${c1y} ${c2x},${c2y} ${p2.x},${p2.y}`;
  }
  return d + 'Z';
}

const NoMark = () => <g />;

const ContourLabel = (props: any) => {
  const t: string = props.t ?? props.payload?.t ?? '';
  const bare: boolean = props.bare ?? props.payload?.bare ?? false;
  const neg = t.startsWith('−');
  const digits = neg ? t.slice(1) : t;
  const w = (neg ? 17 : 0) + (digits.length === 1 ? 15 : 34);
  const shift = neg && digits.length > 1 ? 4 : neg ? -1 : 0;
  return (
    <g>
      {!bare && <rect x={props.cx - w / 2} y={props.cy - 10.5} width={w} height={21} fill="#fff" />}
      <text x={props.cx + shift} y={props.cy} dy="0.36em" textAnchor="middle" fontFamily={FONT} fontSize={16} fill={TEXT}>{t}</text>
    </g>
  );
};

const HourTick = (props: any) => {
  const lines = hourLabels[props.payload.value] || [];
  return (
    <g>
      {lines.map((s: string, i: number) => (
        <text key={s} x={props.x} y={props.y + 13 + i * 19.5} dy="0.36em" textAnchor="middle" fontFamily={FONT} fontSize={16} fill={TEXT}>{s}</text>
      ))}
    </g>
  );
};

function Panel({ p, last }: { p: (typeof panels)[number]; last: boolean }) {
  const bottomRoom = last ? 66 : 10;
  const all: Layer[] = [[fullArea, p.bg], ...p.layers];
  const labelData = p.labels.map(([h, m, t, bare]) => ({ h, m, t, bare }));
  return (
    <div style={{ position: 'absolute', left: 0, top: p.top - 10 }}>
      <ScatterChart width={898} height={165.5 + 10 + bottomRoom} margin={{ top: 10, right: 50.5, bottom: last ? 0 : 10, left: 0 }}>
        <XAxis type="number" dataKey="h" domain={[HOUR_MIN, HOUR_MAX]} ticks={hourTicks} hide={!last} height={last ? 66 : 0} tickSize={5} tickLine={{ stroke: '#333' }} axisLine={false} tick={last ? <HourTick /> : false} interval={0} allowDataOverflow />
        <YAxis type="number" dataKey="m" domain={[HEIGHT_MIN, HEIGHT_MAX]} ticks={heightTicks} width={75} tickSize={6} tickMargin={5} tickLine={{ stroke: '#333' }} axisLine={false} interval={0} allowDataOverflow tick={{ fontFamily: FONT, fontSize: 16, fill: TEXT }} />
        {all.map(([pts, fill, dash], i) => (
          <Scatter
            key={i}
            data={pts.map(([h, m]) => ({ h, m }))}
            isAnimationActive={false}
            shape={NoMark}
            line={(lp: any) => (
              <path d={smoothClosed(lp.points, pts)} fill={fill} stroke={i === 0 ? 'none' : p.stroke} strokeWidth={0.9} strokeDasharray={dash ? '4 2.5' : undefined} />
            )}
          />
        ))}
        <Scatter
          data={fullArea.map(([h, m]) => ({ h, m }))}
          isAnimationActive={false}
          shape={NoMark}
          line={(lp: any) => (
            <polygon points={lp.points.map((q: any) => `${q.x},${q.y}`).join(' ')} fill="none" stroke="#444" strokeWidth={1} />
          )}
        />
        <Scatter data={labelData} isAnimationActive={false} shape={ContourLabel} />
      </ScatterChart>
    </div>
  );
}

const Triangle = (up: boolean) => (props: any) => {
  const { x, y, width, height, fill } = props;
  const pts = up
    ? `${x},${y + height} ${x + width},${y + height} ${x + width / 2},${y}`
    : `${x},${y} ${x + width},${y} ${x + width / 2},${y + height}`;
  return <polygon points={pts} fill={fill} />;
};

function ColourBar({ b }: { b: (typeof colourBars)[number] }) {
  const n = b.labels.length;
  const row: Record<string, any> = { name: 'levels' };
  const bottomUp = [...b.colors].reverse();
  bottomUp.forEach((_, i) => { row['s' + i] = 1; });
  const ticks = b.labels.map((_, i) => i + 1);
  return (
    <div style={{ position: 'absolute', left: 854, top: b.top }}>
      <BarChart width={44} height={b.box * (n + 1)} data={[row]} margin={{ top: 0, right: 0, bottom: 0, left: 0 }} barCategoryGap={0}>
        <XAxis dataKey="name" hide />
        <YAxis orientation="right" type="number" domain={[0, n + 1]} ticks={ticks} width={35.7} tickSize={0} tickMargin={3} axisLine={false} tickLine={false} interval={0} tickFormatter={(v: number) => b.labels[n - v]} tick={{ fontFamily: FONT, fontSize: 16, fill: TEXT, textAnchor: 'start' }} />
        {bottomUp.map((c, i) => (
          <Bar key={i} dataKey={'s' + i} stackId="bar" fill={c} isAnimationActive={false}
            shape={i === 0 ? Triangle(false) : i === bottomUp.length - 1 ? Triangle(true) : undefined} />
        ))}
      </BarChart>
    </div>
  );
}

export default function App() {
  return (
    <div style={{ position: 'absolute', left: 0, top: 0, width: 898, height: 1181, overflow: 'hidden', background: '#fff' }}>
      {panels.map((p, i) => (
        <React.Fragment key={p.letter}>
          <Panel p={p} last={i === panels.length - 1} />
          <div style={{ position: 'absolute', left: 2, top: p.top - 8, fontFamily: FONT, fontSize: 14, color: TEXT, lineHeight: '16px' }}>{p.letter}</div>
        </React.Fragment>
      ))}
      {colourBars.map((b, i) => <ColourBar key={i} b={b} />)}
    </div>
  );
}
